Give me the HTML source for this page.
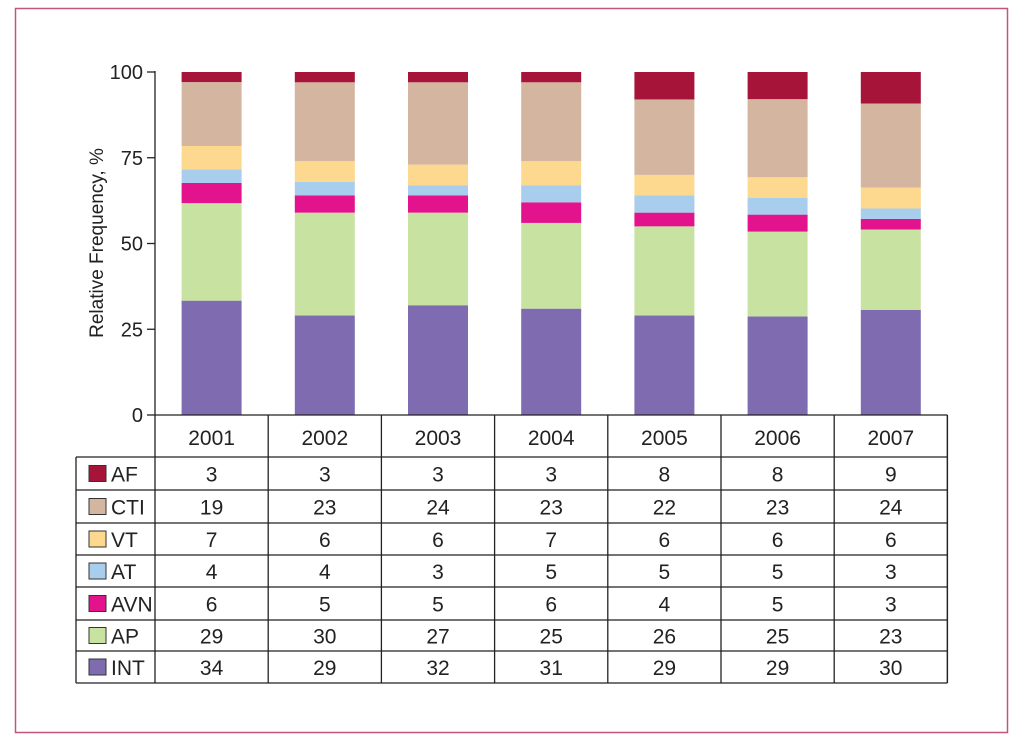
<!DOCTYPE html>
<html><head><meta charset="utf-8"><style>
body{margin:0;background:#fff;width:1024px;height:747px;overflow:hidden}
svg text{font-family:"Liberation Sans Narrow","Liberation Sans",sans-serif;fill:#222}
</style></head><body>
<svg id="chart" width="1024" height="747">
<rect x="15.5" y="8.5" width="992" height="724" fill="none" stroke="#c2567a" stroke-width="1.5"/>
<g id="bars"></g><g id="axis"></g><g id="table"></g>
</svg>
<script>
const years=["2001","2002","2003","2004","2005","2006","2007"];
const seriesNames=["INT","AP","AVN","AT","VT","CTI","AF"];
const INT=[34,29,32,31,29,29,30];
const AP=[29,30,27,25,26,25,23];
const AVN=[6,5,5,6,4,5,3];
const AT=[4,4,3,5,5,5,3];
const VT=[7,6,6,7,6,6,6];
const CTI=[19,23,24,23,22,23,24];
const AF=[3,3,3,3,8,8,9];
const yTicks=[0,25,50,75,100];
const seriesVals=[INT,AP,AVN,AT,VT,CTI,AF];
const colors=["#7f6cb0","#c8e2a2","#e2138c","#a9cdec","#fdd98f","#d4b5a0","#a6143a"];
const NS="http://www.w3.org/2000/svg";
function mk(t,a,p,txt){const e=document.createElementNS(NS,t);for(const k in a)e.setAttribute(k,a[k]);if(txt!==undefined)e.textContent=txt;p.appendChild(e);return e;}
const x0=155,colW=113.2,y0=415,y100=72;
const yS=v=>y0-(y0-y100)*v/100;
const xC=i=>x0+colW*(i+0.5);
const bars=document.getElementById('bars'),axis=document.getElementById('axis'),table=document.getElementById('table');
years.forEach((yr,i)=>{
  let tot=0;seriesVals.forEach(s=>tot+=s[i]);
  let cum=0;
  seriesVals.forEach((s,k)=>{
    const v=s[i]/tot*100;
    const r=mk('rect',{x:xC(i)-30,y:yS(cum+v),width:60,height:yS(cum)-yS(cum+v),fill:colors[k]},bars);
    
    
    cum+=v;
  });
});
mk('line',{x1:x0,y1:y100-1,x2:x0,y2:y0,stroke:'#222','stroke-width':1.3},axis);
yTicks.forEach(t=>{
  mk('line',{x1:x0-8,y1:yS(t),x2:x0,y2:yS(t),stroke:'#222','stroke-width':1.3},axis);
  const tx=mk('text',{x:x0-12,y:yS(t)+7,'text-anchor':'end','font-size':20},axis,t);
  
  
});
const yt=mk('text',{x:0,y:0,'text-anchor':'middle','font-size':19,transform:'translate(103,243) rotate(-90)'},axis,'Relative Frequency, %');


// table
const xR=x0+colW*7, rowsY=[457,490,523,555,587,620,651,683];
const L=(a,b,c,d)=>mk('line',{x1:a,y1:b,x2:c,y2:d,stroke:'#222','stroke-width':1.3},table);
L(x0,y0,xR,y0);L(xR,y0,xR,683);
for(let i=0;i<=7;i++)L(x0+colW*i,y0,x0+colW*i,683);
rowsY.forEach((y,j)=>L(j==0?76:76,y,xR,y));
L(76,457,76,683);
years.forEach((yr,i)=>{const t=mk('text',{x:xC(i),y:445,'text-anchor':'middle','font-size':21},table,yr);
  
  });
for(let r=0;r<7;r++){
  const k=6-r, yc=(rowsY[r]+rowsY[r+1])/2;
  const sw=mk('rect',{x:89,y:yc-8,width:17,height:16,fill:colors[k],stroke:'#333','stroke-width':1},table);
  
  
  const lb=mk('text',{x:111,y:yc+8,'font-size':21},table,seriesNames[k]);
  
  
  years.forEach((yr,i)=>{const t=mk('text',{x:xC(i),y:yc+8,'text-anchor':'middle','font-size':21},table,seriesVals[k][i]);
    
    });
}
</script>
</body></html>
